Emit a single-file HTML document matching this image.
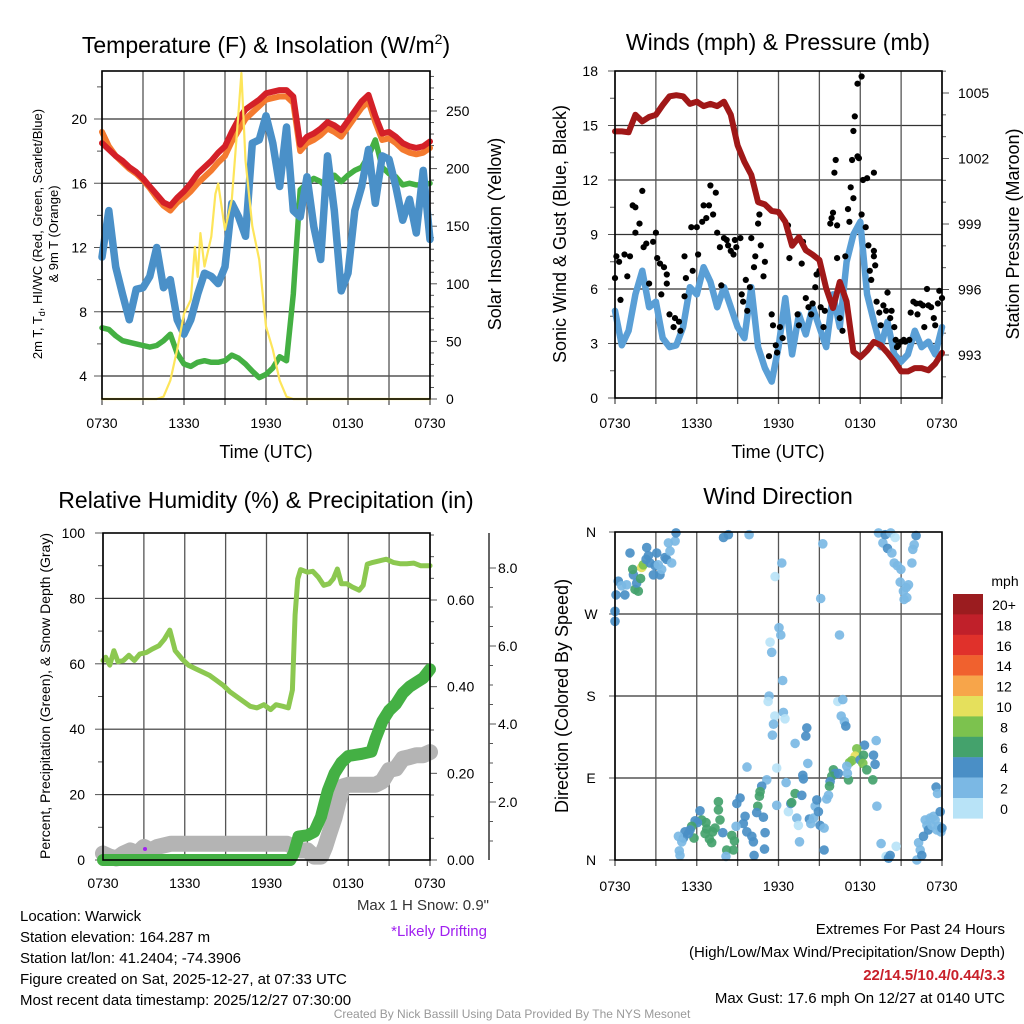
<!DOCTYPE html>
<html><head><meta charset="utf-8"><style>
html,body{margin:0;padding:0;background:#fff;}
svg{display:block;font-family:"Liberation Sans",Arial,sans-serif;}
</style></head><body>
<svg id="c" width="1024" height="1024" viewBox="0 0 1024 1024">
<rect width="1024" height="1024" fill="#fff"/>
<g font-size="23" fill="#000" text-anchor="middle">
<text x="266" y="53">Temperature (F) &amp; Insolation (W/m<tspan font-size="14" dy="-9">2</tspan><tspan dy="9">)</tspan></text>
<text x="778" y="50">Winds (mph) &amp; Pressure (mb)</text>
<text x="266" y="508">Relative Humidity (%) &amp; Precipitation (in)</text>
<text x="778" y="504">Wind Direction</text>
</g>
<g font-size="18" text-anchor="middle">
<text x="266" y="458">Time (UTC)</text>
<text x="778" y="458">Time (UTC)</text>
<text transform="translate(501,234) rotate(-90)">Solar Insolation (Yellow)</text>
<text transform="translate(566,234) rotate(-90)">Sonic Wind &amp; Gust (Blue, Black)</text>
<text transform="translate(1019,234) rotate(-90)">Station Pressure (Maroon)</text>
<text transform="translate(568,696) rotate(-90)">Direction (Colored By Speed)</text>
</g>
<g font-size="13" text-anchor="middle">
<text transform="translate(42,234) rotate(-90)">2m T, T<tspan font-size="9" dy="3">d</tspan><tspan dy="-3">, HI/WC (Red, Green, Scarlet/Blue)</tspan></text>
<text transform="translate(58,234) rotate(-90)">&amp; 9m T (Orange)</text>
<text font-size="14" transform="translate(50,696) rotate(-90)">Percent, Precipitation (Green), &amp; Snow Depth (Gray)</text>
</g>
<g id="p1"></g>
<g id="p2"></g>
<g id="p3"></g>
<g id="p4"></g>
<g id="leg"></g>
<g font-size="15" fill="#000">
<text x="20" y="921">Location: Warwick</text>
<text x="20" y="942">Station elevation: 164.287 m</text>
<text x="20" y="963">Station lat/lon: 41.2404; -74.3906</text>
<text x="20" y="984">Figure created on Sat, 2025-12-27, at 07:33 UTC</text>
<text x="20" y="1005">Most recent data timestamp: 2025/12/27 07:30:00</text>
<text x="489" y="910" text-anchor="end" fill="#333">Max 1 H Snow: 0.9"</text>
<text x="487" y="936" text-anchor="end" fill="#a020f0">*Likely Drifting</text>
<text x="1005" y="934" text-anchor="end">Extremes For Past 24 Hours</text>
<text x="1005" y="957" text-anchor="end">(High/Low/Max Wind/Precipitation/Snow Depth)</text>
<text x="1005" y="980" text-anchor="end" fill="#c8202a" font-weight="bold">22/14.5/10.4/0.44/3.3</text>
<text x="1005" y="1003" text-anchor="end">Max Gust: 17.6 mph On 12/27 at 0140 UTC</text>
<text x="512" y="1018" text-anchor="middle" font-size="12" fill="#999">Created By Nick Bassill Using Data Provided By The NYS Mesonet</text>
</g>
</svg>
<script>
// ---------- data (half-hour steps from 0730 UTC) ----------
const timeLabels = ["0730","1330","1930","0130","0730"];
const tempRed = [18.5,18.1,17.7,17.4,17.0,16.7,16.3,15.8,15.3,14.8,14.6,15.1,15.5,16.0,16.6,17.0,17.4,17.9,18.3,19.2,20.0,20.6,20.9,21.2,21.6,21.7,21.8,21.8,21.4,18.4,18.9,19.1,19.4,19.8,19.6,19.3,19.9,20.5,21.1,21.5,20.2,19.1,19.2,18.9,18.5,18.3,18.2,18.3,18.6];
const temp9m = [19.2,18.3,17.7,17.3,16.9,16.6,16.2,15.7,15.1,14.6,14.3,14.8,15.1,15.5,16.0,16.4,16.8,17.3,17.7,18.6,19.3,20.0,20.4,20.8,21.2,21.3,21.4,21.4,21.0,18.0,18.5,18.7,19.0,19.4,19.2,18.9,19.5,20.1,20.7,21.1,19.8,18.7,18.8,18.5,18.1,17.9,17.8,17.9,18.2];
const dewGreen = [7.0,6.9,6.5,6.2,6.1,6.0,5.9,5.8,5.9,6.2,6.6,5.4,4.75,4.6,4.85,4.95,4.85,4.85,4.95,5.3,5.1,4.75,4.3,3.9,4.1,4.5,5.2,4.95,9.1,15.6,16.0,16.3,16.1,15.7,16.5,16.1,16.5,16.8,17.0,17.7,18.7,17.0,16.6,16.4,15.9,16.0,15.9,15.9,16.0];
const windChill = [11.4,14.3,10.8,9.1,7.5,9.4,9.5,10.2,12.0,9.5,10.0,7.5,6.6,7.5,9.1,10.4,10.2,9.75,10.8,14.75,13.9,12.7,18.5,18.7,20.2,18.5,15.8,19.5,14.3,13.9,16.4,13.3,11.25,17.7,14.3,9.3,10.4,14.3,15.8,18.1,14.75,17.7,17.5,15.8,13.7,15.0,12.9,16.8,12.5];
const solarHours = [0,4,4.5,5,5.5,6,6.5,6.8,7,7.2,7.5,8,8.3,8.5,9,9.5,10,10.2,10.5,11,11.5,12,12.5,13,13.5,14,24];
const solarValues = [0,0,2,16,43,74,86,132,106,144,115,141,178,187,147,173,251,283,207,150,121,63,43,16,2,0,0];
const pressure = [1003.24,1003.24,1003.2,1004.0,1003.7,1003.9,1004.0,1004.45,1004.85,1004.9,1004.85,1004.5,1004.6,1004.4,1004.5,1004.4,1004.6,1004.0,1002.6,1001.85,1001.25,1000.0,999.9,999.6,999.55,999.1,998.0,998.4,997.8,997.6,997.35,996.05,995.15,996.35,995.45,993.15,992.9,993.2,993.6,993.45,993.1,992.7,992.25,992.25,992.4,992.4,992.3,992.6,993.1];
const windSpeed = [4.8,2.9,3.7,5.7,7.0,5.0,5.3,3.3,2.8,2.9,3.9,6.1,5.7,7.2,6.4,5.0,6.1,5.0,3.9,3.3,6.1,2.8,1.65,0.9,2.8,5.5,2.4,4.6,3.5,5.0,3.9,2.8,5.7,3.9,7.5,9.0,9.7,5.7,4.2,2.8,4.2,2.4,2.0,2.4,3.7,2.8,3.1,2.4,3.9];
const gustHours = [0,0.1,0.3,0.4,0.7,0.9,1.1,1.3,1.5,1.5,1.8,2.0,2.1,2.3,2.5,2.8,3.0,3.1,3.3,3.6,3.8,3.8,3.4,4.0,4.3,4.4,4.7,4.8,5.1,5.2,5.1,5.6,5.7,6.0,6.1,6.4,6.5,6.7,6.9,7.0,7.2,7.4,7.5,7.7,7.8,8.0,8.2,8.3,8.5,8.7,8.8,8.9,9.2,9.3,9.4,9.6,9.7,9.9,10.0,10.2,10.3,10.5,10.6,10.7,10.9,11.0,11.3,11.5,11.6,11.8,11.9,12.1,12.3,12.7,12.8,13.1,13.4,13.5,13.7,13.8,14.0,14.2,14.4,14.5,14.7,14.8,15.0,15.1,15.3,15.4,15.8,15.9,16.0,16.1,16.2,16.3,16.3,16.5,16.7,16.9,17.1,17.2,17.3,17.4,17.5,17.5,17.6,17.8,17.8,17.9,18.1,18.1,18.2,18.4,18.5,18.6,18.7,18.8,19.0,19.0,19.0,19.1,19.2,19.4,19.5,19.7,19.9,20.0,20.2,20.3,20.5,20.6,20.7,20.8,21.0,21.2,21.3,21.6,21.7,21.9,22.1,22.2,22.4,22.6,22.7,22.9,23.0,23.2,23.4,23.5,23.7,23.8,24.0];
const gustValues = [6.6,7.8,7.5,5.4,7.9,6.7,7.8,10.6,10.5,9.1,9.6,11.4,8.3,8.5,6.3,8.6,9.1,7.7,7.4,7.2,6.8,6.3,5.7,4.6,3.9,4.4,4.2,3.7,7.8,6.6,5.6,9.4,7.0,9.4,7.9,9.7,10.6,9.9,10.6,11.7,10.1,11.3,9.1,8.3,6.2,8.8,8.7,8.4,8.1,7.9,8.7,8.3,8.8,5.7,5.3,6.5,4.8,6.1,8.8,7.2,7.8,9.6,10.1,8.4,6.7,7.5,2.3,4.6,4.0,2.9,2.5,3.9,3.3,9.5,7.7,8.6,4.6,4.0,7.4,8.6,5.5,5.0,4.6,5.2,6.1,6.8,7.0,5.0,3.9,4.8,9.6,9.9,10.2,12.4,13.1,7.7,9.5,4.4,3.7,7.8,10.4,9.7,11.6,13.1,11.0,14.7,15.5,13.3,17.3,13.2,17.7,10.1,12.0,9.4,12.1,8.4,7.0,6.5,8.1,7.8,12.4,7.3,5.3,4.7,4.0,5.1,4.8,5.8,4.4,4.8,3.9,3.2,2.8,2.9,3.1,3.2,3.1,3.2,4.7,5.3,5.2,4.6,5.2,5.1,3.9,6.0,5.1,5.0,4.4,4.0,5.2,5.9,5.5];
const rhHours = [0,0.2,0.5,0.8,1.1,1.5,1.9,2.3,2.7,3.2,3.6,4.1,4.5,4.9,5.3,5.8,6.3,6.8,7.3,7.8,8.3,8.8,9.3,9.8,10.3,10.8,11.3,11.8,12.3,12.7,13.2,13.6,13.9,14.1,14.3,14.5,15,15.4,15.8,16.2,16.6,16.9,17.2,17.5,17.9,18.3,18.8,19.1,19.4,19.8,20.3,20.8,21.3,21.8,22.3,22.8,23.3,24];
const rhValues = [61,62,59.6,64,60.6,61,62.6,61,63,63.5,64.5,65.5,67.5,70.3,64,61.5,59.5,58.5,57.5,56.5,55,53.5,51.5,50,48.5,47,46.5,47.5,46,47.5,47,46.5,52,75,86,88.8,88,88.3,86.5,84,84.5,86,89,84.5,84.5,83.5,82.5,84,90.5,91,91.5,92,91,90.6,90.6,90.8,90,90];
const precipHours = [0,13.75,14.0,14.35,15,15.5,16,16.5,17,17.5,18,19,19.7,20,20.5,21,21.5,22,22.5,23,23.5,24];
const precipValues = [0,0,0.016,0.054,0.057,0.065,0.10,0.16,0.20,0.225,0.24,0.245,0.25,0.28,0.32,0.345,0.36,0.385,0.40,0.41,0.42,0.44];
const snowHours = [0,0.5,1,1.5,2,2.5,3,3.5,4,5,6,8,10,12,13.5,14,14.5,15,15.5,16,16.3,16.6,17,17.3,17.6,18,19,20,20.5,21,21.5,22,22.5,23,23.5,24];
const snowValues = [0.68,0.60,0.55,0.68,0.76,0.68,0.85,0.76,0.85,0.93,0.93,0.93,0.93,0.93,0.93,0.85,0.76,0.76,0.60,0.60,0.85,1.18,1.60,2.02,2.40,2.44,2.44,2.44,2.53,2.82,2.86,3.11,3.15,3.20,3.20,3.28];
const dirHours = [0.0,0.0,0.07,0.24,0.49,0.73,0.86,1.10,1.35,1.30,1.47,1.71,1.59,1.88,1.96,2.08,2.33,2.28,2.45,2.57,2.82,2.94,3.06,3.18,3.30,3.43,3.67,3.79,4.04,4.16,3.92,4.41,4.48,7.96,8.32,9.84,12.24,11.75,15.25,15.10,19.34,19.66,19.83,20.0,20.24,20.56,20.32,20.49,20.73,20.98,20.93,21.17,21.37,21.54,21.22,21.42,21.79,21.86,21.96,22.1,12.04,12.17,11.38,11.5,16.48,12.31,11.31,11.24,11.73,12.36,12.48,11.63,11.55,16.35,16.72,16.6,16.84,16.94,14.08,14.0,13.22,19.17,18.31,17.75,17.63,17.38,17.21,17.01,17.99,18.24,18.19,18.48,18.97,19.09,18.92,19.22,16.03,16.16,15.91,16.4,15.79,15.74,17.14,17.06,14.15,13.78,13.83,12.56,11.87,9.69,11.14,10.77,10.65,10.6,10.48,10.4,10.89,11.02,10.97,10.16,10.04,10.21,9.67,9.42,9.55,9.18,8.94,8.89,8.76,8.69,8.57,8.2,8.15,7.91,7.71,7.59,7.59,7.34,7.17,7.1,6.93,6.73,6.61,6.68,6.36,6.24,6.05,5.88,5.8,5.63,5.51,5.39,5.14,5.02,4.9,4.72,4.77,4.65,11.87,12.73,12.9,12.97,13.22,13.34,13.46,13.54,13.71,14.27,14.37,14.57,14.69,14.81,14.93,15.05,15.35,15.54,15.67,15.35,19.53,20.64,19.9,20.07,20.2,22.15,22.28,22.4,22.52,22.64,22.77,22.89,23.01,23.13,23.26,23.38,23.5,23.62,23.75,23.87,23.92,23.99,23.57,23.67];
const dirDegrees = [262,273,291,306,301,291,302,337,313,319,297,295,304,309,321,324,343,330,334,326,313,323,337,324,313,319,332,330,339,326,348,350,359,354,357,357,326,311,347,287,359,348,357,342,359,354,337,326,323,319,305,295,299,302,286,288,326,341,346,356,255,247,239,228,247,197,180,174,158,162,155,149,137,174,176,158,152,147,145,136,128,131,126,122,114,109,107,103,110,115,106,99,115,105,88,59,99,95,92,95,86,81,88,95,106,93,89,85,101,102,88,81,75,70,59,52,47,30,12,20,26,5,31,40,48,68,62,37,21,11,27,11,4,30,44,55,64,35,31,19,23,34,29,41,44,54,41,43,24,37,33,29,31,24,20,10,5,26,60,53,62,63,73,46,38,20,71,45,40,46,59,66,53,38,35,67,71,11,18,15,4,2,5,0,19,11,5,26,44,38,33,46,38,48,44,33,37,53,31,35,80,73];
const dirSpeeds = [5,5,5,5,3,5,3,5,5,7,7,7,5,7,11,9,5,5,5,5,5,5,5,3,5,3,5,5,3,3,3,3,5,5,5,3,3,1,3,3,3,3,5,5,3,1,3,3,3,3,3,3,3,3,3,3,3,3,3,5,3,3,1,3,3,3,3,1,1,3,1,3,3,1,3,3,3,5,5,5,3,3,5,9,11,9,9,3,5,7,9,7,5,5,7,3,7,5,7,5,5,7,7,3,3,5,5,3,1,3,3,5,7,7,7,5,5,5,5,5,5,5,5,5,5,5,5,3,7,7,7,7,3,5,7,7,7,7,7,7,7,7,7,7,7,5,5,5,7,7,5,5,5,5,3,3,3,3,3,1,5,7,7,3,1,3,5,5,3,3,3,5,5,5,3,3,3,5,3,1,1,5,5,3,3,3,5,5,3,3,5,3,3,3,3,3,3,5,3,5,5,3,3];
const legendLabels = ["20+","18","16","14","12","10","8","6","4","2","0"];
const legendColors = ["#9b1c1f","#c0202a","#e0312b","#f0612e","#f7a54a","#e5e05c","#7cc24e","#44a26c","#4a8fc6","#7bb8e4","#b8e3f7"];

// ---------- helpers ----------
const NS="http://www.w3.org/2000/svg";
function mk(parent,tag,attrs){const e=document.createElementNS(NS,tag);for(const k in attrs)e.setAttribute(k,attrs[k]);parent.appendChild(e);return e;}
function scale(d0,d1,r0,r1){return v=>r0+(v-d0)*(r1-r0)/(d1-d0);}
function line(g,x1,y1,x2,y2,stroke,w){return mk(g,"line",{x1:x1,y1:y1,x2:x2,y2:y2,stroke:stroke,"stroke-width":w});}
function txt(g,x,y,s,anchor,size,fill){const t=mk(g,"text",{x:x,y:y,"text-anchor":anchor||"middle","font-size":size||14,fill:fill||"#000"});t.textContent=s;return t;}
function pathFrom(xs,ys,xf,yf){let d="";for(let i=0;i<xs.length;i++){d+=(i?"L":"M")+xf(xs[i]).toFixed(1)+","+yf(ys[i]).toFixed(1);}return d;}
function halfHours(n){const a=[];for(let i=0;i<n;i++)a.push(i*0.5);return a;}
function series(g,xs,ys,xf,yf,color,w,name){
  const p=mk(g,"path",{d:pathFrom(xs,ys,xf,yf),fill:"none",stroke:color,"stroke-width":w,"stroke-linejoin":"round","stroke-linecap":"round"});
  
  
  return p;
}
function timeAxis(g,x,yTop,yBot,labelY){
  for(let h=0;h<=24;h+=3){const X=x(h);line(g,X,yTop,X,yBot+6,"#555",1.3);}
  for(let i=0;i<timeLabels.length;i++){
    const t=txt(g,x(i*6),labelY,timeLabels[i],"middle",14);
    
    
  }
}
function frame(g,x0,y0,x1,y1){mk(g,"rect",{x:x0,y:y0,width:x1-x0,height:y1-y0,fill:"none",stroke:"#000","stroke-width":1.6});}

// ---------- panel 1 ----------
(function(){
  const g=document.getElementById("p1");
  const x=scale(0,24,102,430), yT=scale(4,20,376,119), yS=scale(0,250,399,111);
  const hh=halfHours(49);
  for(let v=4;v<=20;v+=4){line(g,102,yT(v),430,yT(v),"#333",1.2);}
  timeAxis(g,x,71,399,428);
  for(let v=4;v<=23;v+=2){const Y=yT(v);line(g,v%4?97:94,Y,102,Y,"#555",1);if(v%4===0){const t=txt(g,87,Y+5,String(v),"end",14);}}
  for(let s=0;s<=280;s+=10){const Y=yS(s);line(g,430,Y,s%50?434:437,Y,"#555",1);if(s%50===0){const t=txt(g,446,Y+5,String(s),"start",14);}}
  series(g,hh,dewGreen,x,yT,"#44b043",5.5,"dewpoint-line");
  series(g,hh,windChill,x,yT,"#4a90c8",7.5,"wind-chill-line");
  series(g,hh,temp9m,x,yT,"#f47a2f",6,"temp-9m-line");
  series(g,hh,tempRed,x,yT,"#d42028",6,"temp-2m-line");
  series(g,solarHours,solarValues,x,yS,"#fde55a",2.2,"solar-line");
  frame(g,102,71,430,399);
})();

// ---------- panel 2 ----------
(function(){
  const g=document.getElementById("p2");
  const x=scale(0,24,615,942), yW=scale(0,18,398,71), yP=scale(993,1005,355,93);
  const hh=halfHours(49);
  for(let v=3;v<18;v+=3){line(g,615,yW(v),942,yW(v),"#333",1.2);}
  timeAxis(g,x,71,398,428);
  for(let v=0;v<=18;v+=1.5){const Y=yW(v);line(g,v%3?610:608,Y,615,Y,"#555",1);if(v%3===0){const t=txt(g,598,Y+5,String(v),"end",14);}}
  for(let p=992;p<=1006;p++){const Y=yP(p);if(Y<71||Y>398)continue;line(g,942,Y,(p-993)%3?946:949,Y,"#555",1);if((p-993)%3===0){const t=txt(g,958,Y+5,String(p),"start",14);}}
  series(g,hh,windSpeed,x,yW,"#5a9fd6",6.5,"wind-speed-line");
  for(let i=0;i<gustHours.length;i++){
    const c=mk(g,"circle",{cx:x(gustHours[i]).toFixed(1),cy:yW(gustValues[i]).toFixed(1),r:3.1,fill:"#000"});
    
    
  }
  series(g,hh,pressure,x,yP,"#a01818",6,"pressure-line");
  frame(g,615,71,942,398);
})();

// ---------- panel 3 ----------
(function(){
  const g=document.getElementById("p3");
  const x=scale(0,24,103,430), yR=scale(0,100,860,533), yPr=scale(0,0.6,860,600), ySn=scale(0,8,880,568);
  for(let v=20;v<100;v+=20){line(g,103,yR(v),430,yR(v),"#333",1.2);}
  timeAxis(g,x,533,860,888);
  for(let v=0;v<=100;v+=10){const Y=yR(v);line(g,v%20?98:95,Y,103,Y,"#555",1);if(v%20===0){const t=txt(g,85,Y+5,String(v),"end",14);}}
  for(let k=0;k<=15;k++){const v=k*0.05;const Y=yPr(v);if(Y<533)continue;line(g,430,Y,k%4?434:437,Y,"#555",1);if(k%4===0){const t=txt(g,447,Y+5,v.toFixed(2),"start",14);}}
  line(g,489,533,489,860,"#333",1.5);
  for(let s=1;s<=8;s+=0.5){const Y=ySn(s);if(Y>860)continue;line(g,489,Y,s%2?493:496,Y,"#555",1);if(s%2===0){const t=txt(g,498,Y+5,s.toFixed(1),"start",14);}}
  series(g,snowHours,snowValues,x,ySn,"#b4b4b4",16,"snow-depth-line");
  series(g,rhHours,rhValues,x,yR,"#8cc850",5,"humidity-line");
  series(g,precipHours,precipValues,x,yPr,"#44b044",12,"precip-line");
  const d=mk(g,"circle",{cx:145,cy:849,r:2,fill:"#a020f0"});
  
  
  frame(g,103,533,430,860);
})();

// ---------- panel 4 ----------
(function(){
  const g=document.getElementById("p4");
  const x=scale(0,24,615,942), yD=scale(0,360,860,532);
  const dirLabels=["N","E","S","W","N"];
  for(let k=1;k<4;k++){line(g,615,yD(k*90),942,yD(k*90),"#333",1.2);}
  timeAxis(g,x,532,860,891);
  for(let k=0;k<=4;k++){const Y=yD(k*90);line(g,609,Y,615,Y,"#555",1);const t=txt(g,591,Y+5,dirLabels[k],"middle",14);}
  for(let i=0;i<dirHours.length;i++){
    const s=dirSpeeds[i];const idx=Math.max(0,Math.min(10,10-Math.floor(s/2)));
    const c=mk(g,"circle",{cx:x(dirHours[i]).toFixed(1),cy:yD(dirDegrees[i]).toFixed(1),r:4.8,fill:legendColors[idx],"fill-opacity":0.92});
    
    
  }
  frame(g,615,532,942,860);
})();

// ---------- legend ----------
(function(){
  const g=document.getElementById("leg");
  const t0=txt(g,1005,586,"mph","middle",14);
  
  
  for(let i=0;i<legendLabels.length;i++){
    const y=594+i*20.4;
    const r=mk(g,"rect",{x:953,y:y,width:30,height:20.6,fill:legendColors[i]});
    
    
    const t=txt(g,1004,y+16,legendLabels[i],"middle",14);
    
    
  }
})();
</script>
</body></html>
